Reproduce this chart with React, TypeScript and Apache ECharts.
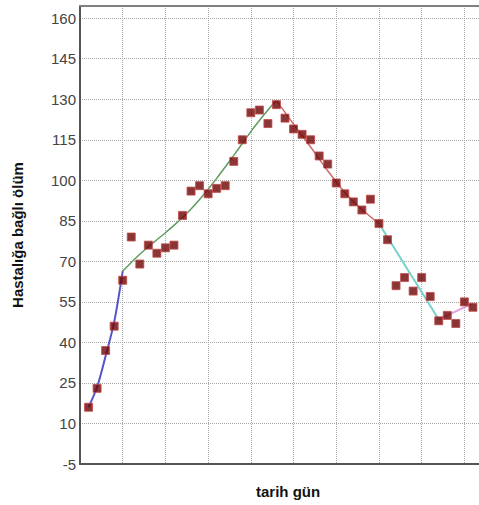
import React, { useEffect, useRef } from "react";
import * as echarts from "echarts";

const days = [1, 2, 3, 4, 5, 6, 7, 8, 9, 10, 11, 12, 13, 14, 15, 16, 17, 18, 19, 20, 21, 22, 23, 24, 25, 26, 27, 28, 29, 30, 31, 32, 33, 34, 35, 36, 37, 38, 39, 40, 41, 42, 43, 44, 45, 46];
const deaths = [16, 23, 37, 46, 63, 79, 69, 76, 73, 75, 76, 87, 96, 98, 95, 97, 98, 107, 115, 125, 126, 121, 128, 123, 119, 117, 115, 109, 106, 99, 95, 92, 89, 93, 84, 78, 61, 64, 59, 64, 57, 48, 50, 47, 55, 53];

const fitBlueX = [1, 2, 3, 4, 5];
const fitBlue = [16, 23.5, 35, 47.5, 66.4];
const fitGreenX = [5, 6, 7, 8, 9, 10, 11, 12, 13, 14, 15, 16, 17, 18, 19, 20, 21, 22, 23];
const fitGreen = [66.4, 69.6, 72.6, 75.4, 78, 80.6, 83.3, 86.2, 89.4, 92.9, 96.7, 100.7, 104.9, 109.2, 113.6, 118, 122.1, 126, 129.5];
const fitRedX = [23, 25, 27, 29, 31, 33, 35];
const fitRed = [129.5, 120.8, 112.3, 103.5, 95.5, 89.2, 84];
const fitCyanX = [35, 42];
const fitCyan = [84, 48.5];
const fitPinkX = [42, 46];
const fitPink = [48.5, 54.5];

const yTicksMin = -5;
const yTicksMax = 164.5;
const yInterval = 15;

const zip = (xs: number[], ys: number[]) => xs.map((x, i) => [x, ys[i]]);

export default function App() {
  const ref = useRef<HTMLDivElement>(null);
  useEffect(() => {
    if (!ref.current) return;
    const chart = echarts.init(ref.current, undefined, { renderer: "svg" });
    const fitLine = (name: string, xs: number[], ys: number[], color: string, width: number) => ({
      name,
      type: "line",
      data: zip(xs, ys),
      smooth: 0.3,
      showSymbol: false,
      symbol: "none",
      lineStyle: { color, width },
      z: 2,
    });
    chart.setOption({
      animation: false,
      backgroundColor: "#ffffff",
      grid: { left: 80, right: 12, top: 6, bottom: 41, containLabel: false },
      xAxis: [
        {
          type: "value",
          min: 0,
          max: 48,
          interval: 5,
          axisLine: { show: true, onZero: false, lineStyle: { color: "#555", width: 2 } },
          axisTick: { show: false },
          axisLabel: { show: false },
          splitLine: { show: true, lineStyle: { color: "#a8a8a8", type: "dotted", width: 1 } },
        },
        {
          type: "value",
          position: "top",
          min: 0,
          max: 48,
          interval: 5,
          axisLine: { show: true, onZero: false, lineStyle: { color: "#808080", width: 2 } },
          axisTick: { show: false },
          axisLabel: { show: false },
          splitLine: { show: false },
        },
      ],
      yAxis: {
        type: "value",
        min: yTicksMin,
        max: yTicksMax,
        interval: yInterval,
        name: "Hastalığa bağlı ölüm",
        nameLocation: "middle",
        nameGap: 55,
        nameRotate: 90,
        nameTextStyle: { fontFamily: "Liberation Sans", fontWeight: "bold", fontSize: 15, color: "#111" },
        axisLine: { show: true, onZero: false, lineStyle: { color: "#555", width: 2 } },
        axisTick: { show: false },
        axisLabel: {
          color: "#444",
          fontFamily: "Liberation Sans",
          fontSize: 15,
          margin: 4,
          showMaxLabel: false,
        },
        splitLine: { show: true, lineStyle: { color: "#a8a8a8", type: "dotted", width: 1 } },
      },
      graphic: [
        {
          type: "text",
          left: 256,
          top: 484,
          style: {
            text: "tarih gün",
            fontFamily: "Liberation Sans",
            fontWeight: "bold",
            fontSize: 15,
            fill: "#111",
          },
        },
      ],
      series: [
        fitLine("blue", fitBlueX, fitBlue, "#5555c8", 2),
        fitLine("green", fitGreenX, fitGreen, "#5e9c5e", 1.5),
        fitLine("red", fitRedX, fitRed, "#d06a6a", 1.5),
        fitLine("cyan", fitCyanX, fitCyan, "#74d2cc", 2),
        fitLine("pink", fitPinkX, fitPink, "#e2a2e2", 2),
        {
          name: "ölüm",
          type: "scatter",
          data: zip(days, deaths),
          symbol: "rect",
          symbolSize: 8,
          itemStyle: { color: "#6e0404", borderColor: "#c24a4a", borderWidth: 1 },
          z: 3,
        },
      ],
    });
    return () => chart.dispose();
  }, []);
  return (
    <div style={{ position: "absolute", left: 0, top: 0, width: 479, height: 505, overflow: "hidden" }}>
      <div ref={ref} style={{ width: 502, height: 505 }} />
    </div>
  );
}
